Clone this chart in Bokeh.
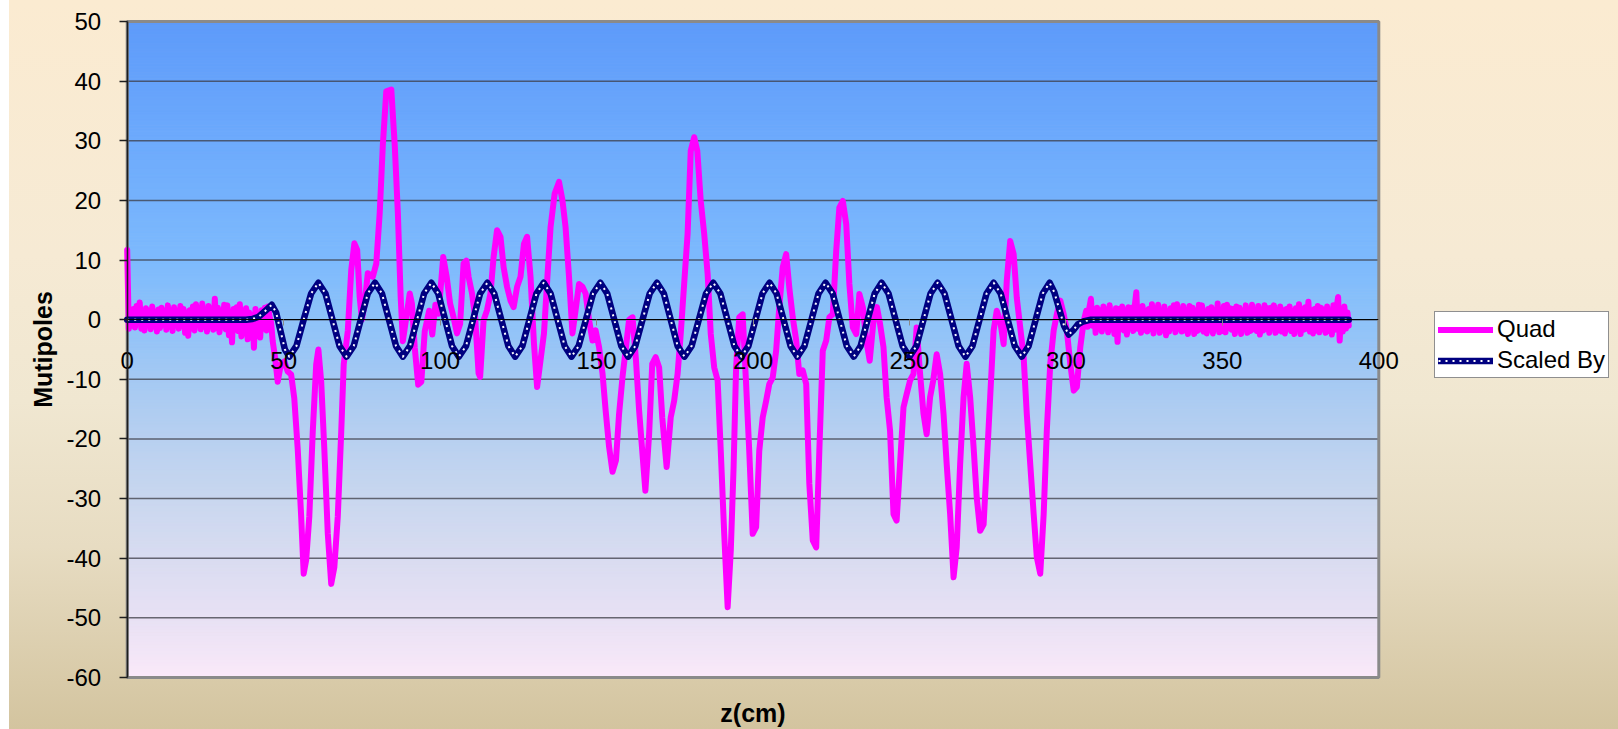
import numpy as np
from bokeh.plotting import figure
from bokeh.models import (LinearAxis, FixedTicker, Legend, LegendItem, Label,
                          Range1d, ColumnDataSource)
from bokeh.embed import file_html
from bokeh.resources import INLINE

# ---------------- data ----------------
x_ticks = [0, 50, 100, 150, 200, 250, 300, 350, 400]
x_tick_labels = ["0", "50", "100", "150", "200", "250", "300", "350", "400"]
y_ticks = [-60, -50, -40, -30, -20, -10, 0, 10, 20, 30, 40, 50]
y_tick_labels = ["-60", "-50", "-40", "-30", "-20", "-10", "0", "10", "20", "30", "40", "50"]

series_names = ["Quad", "Scaled By"]
x_title = "z(cm)"
y_title = "Mutipoles"

# Quad: very first samples (z cm, value)
quad_start = [(0, 11.7), (0.5, -1.5)]

# Quad: entrance noise sampled every 0.5 cm from z = 1.0 to 45.5
head_z = np.arange(1.0, 45.51, 0.5)
head_v = [
    1.2, -1.0, 1.8, -1.3, 2.3, -0.6, 2.9, -1.5, 1.4, -1.8,
    1.9, -0.9, 1.5, -1.6, 2.2, -1.1, 1.0, -2.0, 1.7, -1.4,
    2.0, -0.8, 1.3, -1.7, 2.4, -1.2, 1.6, -1.9, 2.1, -0.7,
    1.1, -1.5, 2.3, -1.0, 1.8, -2.2, 1.2, -2.7, 1.6, -1.3,
    2.2, -1.8, 2.6, -0.9, 1.9, -1.6, 2.7, -1.2, 1.5, -2.0,
    2.3, -1.1, 1.4, -1.7, 3.5, -1.4, 2.0, -2.1, 1.2, -1.0,
    2.5, -1.6, 2.4, -2.6, 1.3, -3.8, 1.8, -1.2, 2.1, -1.9,
    2.6, -2.8, 1.5, -2.2, 1.9, -3.3, 1.2, -2.0, 0.8, -4.7,
    1.8, -2.5, 1.0, -3.0, 1.6, -1.4, 2.0, -1.8, 2.2, 0.5,
]

# Quad: undulator body (z cm, value)
quad_body = [
    (46, -0.5), (46.5, -3.6), (47.3, -6.5), (48.1, -10.4), (49.1, -7.5), (50.2, -7.0),
    (51.3, -8.7), (52.4, -9.2), (53.4, -13.2), (54.5, -21.7), (55.6, -33.0), (56.4, -42.6),
    (57.2, -40.3), (58.2, -33.0), (59.3, -18.8), (60.4, -7.5), (61.1, -5.0), (62, -10.4),
    (63, -21.7), (64.1, -35.8), (65.2, -44.3), (66.2, -41.5), (67.3, -33.0), (68.4, -18.8),
    (69.2, -7.5), (70.5, -1.9), (71.6, 8.3), (72.6, 12.8), (73.5, 11.7), (74.3, 3.8),
    (75, 0.0), (75.9, 2.7), (76.9, 7.8), (78.5, 7.2), (79.6, 9.4), (80.7, 17.9),
    (81.7, 29.3), (82.8, 38.3), (84.4, 38.6), (85.5, 29.3), (86.5, 17.9), (87.4, 3.8),
    (88.1, -3.6), (89.2, 0.4), (90.3, 4.4), (91, 2.7), (91.9, -4.7), (93, -10.9),
    (94, -10.4), (95.1, -1.9), (96.5, 1.5), (97.5, -2.5), (98.5, 2.5), (99.5, 1.0),
    (101, 10.5), (102.1, 7.2), (103.2, 2.7), (104.3, 0.4), (105.4, -2.3), (106.4, -0.7),
    (107.5, 9.4), (108.4, 9.9), (109.1, 7.2), (110.2, 4.4), (111.2, 0.4), (112.3, -9.0),
    (112.8, -9.6), (113.9, -0.1), (115, 1.6), (116.1, 4.4), (117.1, 10.5), (118.2, 15.0),
    (119.3, 13.9), (120.3, 8.8), (121.4, 5.5), (122.5, 3.2), (123.5, 2.1), (124.6, 5.5),
    (125.7, 7.2), (126.8, 12.7), (127.8, 13.9), (128.9, 7.2), (130, -4.0), (131, -11.3),
    (132.1, -6.8), (133.2, -2.3), (134.3, 7.2), (135.3, 15.5), (136.6, 21.1), (138, 23.1),
    (139.1, 20.0), (140.1, 15.5), (141.2, 7.2), (142.3, -2.3), (143.3, 1.6), (144.4, 6.0),
    (145.5, 5.5), (146.5, 4.4), (147.6, 0.0), (148.7, -3.5), (149.7, -1.8), (150.8, -4.6),
    (151.9, -9.0), (152.9, -15.2), (154, -21.3), (155.1, -25.5), (156.2, -23.6), (157.2, -15.8),
    (158.3, -9.6), (159.4, -4.6), (160.4, 0.0), (161.5, 0.4), (162.6, -6.8), (163.6, -15.2),
    (164.6, -22.0), (165.6, -28.7), (166.8, -19.2), (167.8, -7.4), (168.9, -6.3), (170, -8.0),
    (171, -16.4), (172.4, -24.7), (173.7, -16.4), (174.8, -13.6), (175.9, -9.1), (176.9, -2.4),
    (178, 6.0), (179.1, 14.4), (180.1, 28.3), (181.2, 30.6), (182.2, 28.3), (183.3, 19.9),
    (184.4, 14.4), (185.5, 7.7), (186.5, -2.4), (187.6, -8.0), (188.7, -10.2), (189.7, -22.0),
    (190.8, -35.9), (191.9, -48.2), (192.9, -38.7), (193.8, -24.7), (194.6, -8.0), (195.6, 0.4),
    (196.7, 0.9), (197.8, -10.8), (198.8, -22.0), (199.9, -35.9), (201, -34.8), (202, -22.0),
    (203.1, -16.4), (204.2, -13.6), (205.2, -10.8), (206.3, -9.7), (207.4, -5.2), (208.4, 2.1),
    (209.5, 8.8), (210.6, 11.0), (211.6, 5.4), (212.7, 0.4), (213.8, -3.5), (214.8, -9.1),
    (215.9, -8.5), (217, -10.8), (218, -27.5), (219.1, -37.0), (220.2, -38.2), (221.2, -22.0),
    (222.3, -5.2), (223.4, -3.5), (224.4, 0.4), (225.5, 0.9), (226.6, 11.6), (227.6, 18.8),
    (228.7, 19.9), (229.8, 16.0), (230.8, 6.0), (231.9, -1.3), (233, -2.4), (234, 4.3),
    (235.1, 2.1), (236.2, -3.5), (237.3, -6.9), (238.5, -0.2), (239.6, 2.1), (240.6, -0.7),
    (241.7, -4.6), (242.7, -13.0), (243.8, -18.6), (244.9, -32.6), (245.9, -33.7), (247, -24.2),
    (248.1, -14.7), (249.1, -12.5), (250.2, -10.2), (251.3, -9.1), (252.3, -1.3), (253.4, -9.1),
    (254.5, -15.8), (255.5, -19.2), (256.6, -13.0), (257.6, -10.2), (258.7, -5.8), (259.8, -9.1),
    (260.9, -15.8), (261.9, -24.2), (263, -32.6), (264.1, -43.2), (265.1, -38.2), (266.2, -24.2),
    (267.3, -13.0), (268.3, -7.4), (269.4, -13.0), (270.5, -21.4), (271.5, -29.8), (272.6, -35.4),
    (273.7, -34.3), (274.7, -24.2), (275.8, -13.0), (276.9, -1.8), (277.9, 1.5), (279, -0.2),
    (280.1, -4.1), (281.1, 6.5), (282.2, 13.2), (283.3, 11.0), (284.3, 3.7), (285.4, -1.3),
    (286.5, -6.3), (287.5, -15.8), (288.6, -24.2), (289.7, -32.6), (290.7, -39.8), (291.8, -42.6),
    (292.9, -32.6), (293.9, -18.6), (295, -7.4), (296.1, -1.8), (297.1, 0.9), (298.2, 3.2),
    (299.3, 0.9), (300.3, -1.8), (301.4, -7.4), (302.5, -11.9), (303.5, -11.3), (304.6, -4.6),
    (305.7, -0.2),
]

# Quad: exit noise sampled every 0.5 cm from z = 306.5 to 390.0
tail_z = np.arange(306.5, 390.01, 0.5)
tail_v = [
    1.5, -1.2, 2.0, 3.5, -1.0, 1.8, -2.2, 2.0, -1.5, 1.6,
    -2.0, 2.2, -1.3, 1.7, -2.1, 2.4, -1.6, 1.0, -2.4, 1.9,
    -3.7, 1.8, -1.4, 2.2, -1.8, 1.6, -2.5, 2.1, -1.2, 2.0,
    -1.9, 2.3, 4.6, -1.5, 2.0, -2.2, 2.3, -1.7, 1.5, -2.0,
    1.8, -1.6, 2.6, -2.3, 1.9, -1.3, 2.5, -2.2, 1.5, -1.8,
    2.2, -2.6, 1.4, -2.0, 1.9, -1.4, 2.4, -2.1, 2.6, -1.5,
    1.7, -2.0, 2.3, -1.8, 1.6, -2.4, 2.3, -1.2, 2.0, -2.4,
    1.4, -1.9, 2.5, -1.6, 2.4, -2.0, 1.3, -2.3, 1.8, -1.7,
    2.1, -2.3, 1.6, -1.5, 2.7, -2.1, 1.6, -1.9, 2.3, -2.1,
    2.5, -1.4, 1.9, -1.7, 1.8, -2.4, 2.2, -1.6, 2.0, -2.4,
    1.5, -1.3, 2.4, -2.2, 1.7, -1.9, 2.5, -1.6, 1.5, -1.9,
    2.3, -2.5, 1.7, -1.8, 2.4, -1.6, 1.9, -2.2, 2.0, -1.4,
    2.4, -2.2, 1.6, -1.8, 2.2, -2.0, 1.6, -2.3, 1.8, -1.5,
    2.2, -1.9, 1.5, -2.4, 1.9, -1.6, 2.6, -2.4, 1.8, -1.7,
    2.1, -1.5, 3.0, -2.0, 1.6, -2.3, 1.8, -1.8, 2.3, -2.1,
    2.0, -1.6, 1.7, -2.2, 2.2, -1.9, 1.5, -2.5, 2.4, -1.7,
    2.0, 3.8, -3.5, 1.5, -2.0, 2.2, -1.5, 1.2,
]
quad_end = [(390.4, -1.0)]

# Scaled By field
scaled_z = [
    0, 38, 40, 42, 44, 46.2, 47.6, 49.0, 50.4, 51.8,
    54.1, 56.4, 58.8, 61.1, 63.35, 65.6, 67.85, 70.1,
    72.4, 74.65, 76.9, 79.2, 81.4, 83.65, 85.9, 88.1,
    90.4, 92.65, 94.9, 97.2, 99.4, 101.6, 103.8, 106.0,
    108.3, 110.55, 112.8, 115.1, 117.3, 119.55, 121.8, 124.0,
    126.3, 128.55, 130.8, 133.1, 135.3, 137.55, 139.8, 142.0,
    144.3, 146.6, 148.9, 151.2, 153.4, 155.65, 157.9, 160.1,
    162.4, 164.7, 167.0, 169.3, 171.5, 173.7, 175.9, 178.1,
    180.4, 182.7, 185.0, 187.3, 189.55, 191.8, 194.05, 196.3,
    198.55, 200.8, 203.05, 205.3, 207.5, 209.75, 212.0, 214.2,
    216.45, 218.7, 220.95, 223.2, 225.45, 227.7, 229.95, 232.2,
    234.4, 236.65, 238.9, 241.1, 243.3, 245.55, 247.8, 250.0,
    252.25, 254.5, 256.75, 259.0, 261.2, 263.45, 265.7, 267.9,
    270.15, 272.4, 274.65, 276.9, 279.15, 281.4, 283.65, 285.9,
    288.1, 290.35, 292.6, 294.8,
    296.3, 297.8, 299.4, 300.9, 302.3, 303.8, 305.5, 308, 390.4,
]
scaled_v = [
    0, 0, 0.1, 0.5, 1.4, 2.5, 1.2, -1.9, -5.0, -6.2,
    -4.4, 0, 4.4, 6.2, 4.4, 0, -4.4, -6.2,
    -4.4, 0, 4.4, 6.2, 4.4, 0, -4.4, -6.2,
    -4.4, 0, 4.4, 6.2, 4.4, 0, -4.4, -6.2,
    -4.4, 0, 4.4, 6.2, 4.4, 0, -4.4, -6.2,
    -4.4, 0, 4.4, 6.2, 4.4, 0, -4.4, -6.2,
    -4.4, 0, 4.4, 6.2, 4.4, 0, -4.4, -6.2,
    -4.4, 0, 4.4, 6.2, 4.4, 0, -4.4, -6.2,
    -4.4, 0, 4.4, 6.2, 4.4, 0, -4.4, -6.2,
    -4.4, 0, 4.4, 6.2, 4.4, 0, -4.4, -6.2,
    -4.4, 0, 4.4, 6.2, 4.4, 0, -4.4, -6.2,
    -4.4, 0, 4.4, 6.2, 4.4, 0, -4.4, -6.2,
    -4.4, 0, 4.4, 6.2, 4.4, 0, -4.4, -6.2,
    -4.4, 0, 4.4, 6.2, 4.4, 0, -4.4, -6.2,
    -4.4, 0, 4.4, 6.2,
    4.6, 1.9, -1.0, -2.5, -1.8, -0.8, -0.3, 0, 0,
]

assert len(head_z) == len(head_v)
assert len(tail_z) == len(tail_v)
assert len(scaled_z) == len(scaled_v)

quad_z = ([pt[0] for pt in quad_start] + list(head_z) + [pt[0] for pt in quad_body]
          + list(tail_z) + [pt[0] for pt in quad_end])
quad_v = ([pt[1] for pt in quad_start] + list(head_v) + [pt[1] for pt in quad_body]
          + list(tail_v) + [pt[1] for pt in quad_end])

# ---------------- layout / style ----------------
FONT = "Liberation Sans"
PAGE_LEFT = 9                     # white strip at the left of the page
FIG_W, FIG_H = 1618 - PAGE_LEFT, 729
# pixel box of the plot area inside the figure
PA_LEFT, PA_RIGHT, PA_TOP, PA_BOTTOM = 126.7 - PAGE_LEFT, 1378.3 - PAGE_LEFT, 21.0, 677.0
x_lo_d, x_hi_d = x_ticks[0], x_ticks[-1]
y_lo_d, y_hi_d = y_ticks[0], y_ticks[-1]
sx = (PA_RIGHT - PA_LEFT) / (x_hi_d - x_lo_d)
sy = (PA_BOTTOM - PA_TOP) / (y_hi_d - y_lo_d)
xr = Range1d(x_lo_d - PA_LEFT / sx, x_hi_d + (FIG_W - PA_RIGHT) / sx)
yr = Range1d(y_lo_d - (FIG_H - PA_BOTTOM) / sy, y_hi_d + PA_TOP / sy)

grad_y = [50, 30, 10, 0, -10, -20, -30, -40, -50, -60]
grad_hex = ["#5E9BFA", "#6DAAFC", "#7DBAFD", "#8EC2F9", "#A5C9F3",
            "#B8D0F0", "#C9D7EF", "#D9DCF1", "#E8E1F4", "#FAE9F9"]


def hex2rgb(h):
    return [int(h[i:i + 2], 16) for i in (1, 3, 5)]


p = figure(width=FIG_W, height=FIG_H, x_range=xr, y_range=yr,
           output_backend="svg", toolbar_location=None,
           x_axis_location=None, y_axis_location=None,
           min_border=0)
p.grid.visible = False
p.styles = {
    "margin-left": "%dpx" % PAGE_LEFT,
    "background-image": "linear-gradient(to bottom, #FBEBD1 0%, #F6EAD4 35%, "
                        "#F0E7D1 55%, #E7DCC2 75%, #D3C49F 100%)",
}
p.border_fill_color = None
p.background_fill_color = None
p.outline_line_color = None

# plot-area gradient (bands)
edges = np.linspace(y_lo_d, y_hi_d, 221)
mids = 0.5 * (edges[:-1] + edges[1:])
gy = np.array(grad_y[::-1], dtype=float)
grgb = np.array([hex2rgb(h) for h in grad_hex[::-1]], dtype=float)
band_cols = []
for m in mids:
    r = np.interp(m, gy, grgb[:, 0])
    g = np.interp(m, gy, grgb[:, 1])
    b = np.interp(m, gy, grgb[:, 2])
    band_cols.append("#%02x%02x%02x" % (int(round(r)), int(round(g)), int(round(b))))
p.quad(left=x_lo_d, right=x_hi_d, bottom=edges[:-1], top=edges[1:],
       fill_color=band_cols, line_color=band_cols, line_width=1, level="image")

# horizontal gridlines at the y ticks, limited to the plot area
p.segment(x0=x_lo_d, x1=x_hi_d, y0=y_ticks, y1=y_ticks,
          line_color="#3c3c46", line_alpha=0.75, line_width=1.5, level="underlay")
# plot-area border (grey)
p.quad(left=x_lo_d, right=x_hi_d, bottom=y_lo_d, top=y_hi_d, fill_color=None,
       line_color="#8a8a8a", line_width=3, level="underlay")

# axes
yticker = FixedTicker(ticks=y_ticks, minor_ticks=[])
xticker = FixedTicker(ticks=x_ticks, minor_ticks=[])

yaxis = LinearAxis(ticker=yticker, fixed_location=x_lo_d, bounds=(y_lo_d, y_hi_d),
                   major_label_overrides={t: s for t, s in zip(y_ticks, y_tick_labels)})
yaxis.axis_line_color = "#1e1e1e"
yaxis.axis_line_width = 1.6
yaxis.major_tick_line_color = "#1e1e1e"
yaxis.major_tick_line_width = 1.3
yaxis.major_tick_out = 8
yaxis.major_tick_in = 0
yaxis.minor_tick_line_color = None
yaxis.major_label_standoff = 18
yaxis.major_label_text_font = FONT
yaxis.major_label_text_font_size = "24px"
yaxis.major_label_text_color = "black"
yaxis.axis_label = y_title
yaxis.axis_label_text_font = FONT
yaxis.axis_label_text_font_size = "25px"
yaxis.axis_label_text_font_style = "bold"
yaxis.axis_label_text_color = "black"
yaxis.axis_label_standoff = 7
p.add_layout(yaxis, "left")

xaxis = LinearAxis(ticker=xticker, fixed_location=0, bounds=(x_lo_d, x_hi_d),
                   major_label_overrides={t: s for t, s in zip(x_ticks, x_tick_labels)})
xaxis.axis_line_color = "black"
xaxis.axis_line_width = 1.2
xaxis.major_tick_line_color = "#8a8a8a"
xaxis.major_tick_out = 6
xaxis.major_tick_in = 0
xaxis.minor_tick_line_color = None
xaxis.major_label_standoff = 26
xaxis.major_label_text_font = FONT
xaxis.major_label_text_font_size = "24px"
xaxis.major_label_text_color = "black"
p.add_layout(xaxis, "below")

p.add_layout(Label(x=(x_lo_d + x_hi_d) / 2, y=y_lo_d, y_offset=-35, text=x_title,
                   text_align="center", text_baseline="middle", text_font=FONT,
                   text_font_size="25px", text_font_style="bold", text_color="black"))

# series
quad_src = ColumnDataSource(dict(z=quad_z, v=quad_v))
sb_src = ColumnDataSource(dict(z=scaled_z, v=scaled_v))
r_quad = p.line("z", "v", source=quad_src, line_color="#FF00FF", line_width=6,
                line_join="round", line_cap="round")
r_sb = p.line("z", "v", source=sb_src, line_color="#000080", line_width=6.5,
              line_join="round", line_cap="round")
r_sb_dots = p.line("z", "v", source=sb_src, line_color="white", line_width=2,
                   line_dash="2 5", line_join="round")

legend = Legend(items=[LegendItem(label=series_names[0], renderers=[r_quad]),
                       LegendItem(label=series_names[1], renderers=[r_sb, r_sb_dots])],
                location=(1425, 351))
legend.border_line_color = "#202020"
legend.border_line_width = 1
legend.background_fill_color = "white"
legend.background_fill_alpha = 1
legend.label_text_font = FONT
legend.label_text_font_size = "24px"
legend.label_text_color = "black"
legend.glyph_width = 55
legend.glyph_height = 23
legend.label_height = 23
legend.label_standoff = 4
legend.spacing = 3
legend.padding = 3
legend.margin = 0
p.add_layout(legend, "center")

open("out.html", "w").write(file_html(p, INLINE))
